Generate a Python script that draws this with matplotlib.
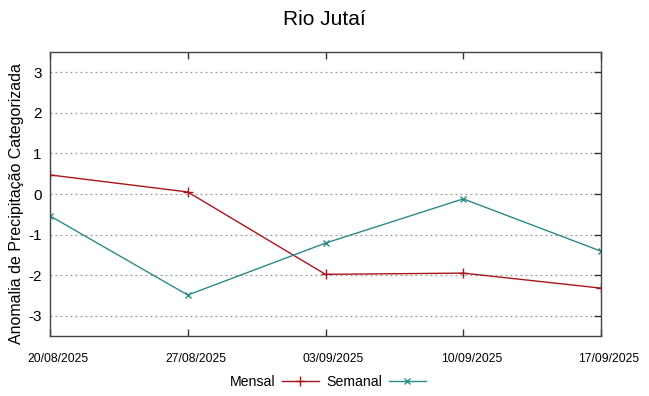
import datetime as dt
import matplotlib
matplotlib.use('Agg')
import matplotlib.pyplot as plt
import matplotlib.dates as mdates
from matplotlib.transforms import ScaledTranslation

plt.rcParams['font.family'] = ['Liberation Sans', 'DejaVu Sans']

# --Datos
datas = ['20/08/2025', '27/08/2025', '03/09/2025', '10/09/2025', '17/09/2025']
mensal = [0.47, 0.05, -1.98, -1.95, -2.32]
semanal = [-0.54, -2.49, -1.21, -0.12, -1.41]
yticks = [-3, -2, -1, 0, 1, 2, 3]

x = [dt.datetime.strptime(d, '%d/%m/%Y') for d in datas]

fig = plt.figure(figsize=(6.49, 3.96), dpi=100)
ax = fig.add_axes([50 / 649, 60 / 396, 551 / 649, 284 / 396])

ax.plot(x, mensal, color='#a8161d', lw=1, marker='+', ms=7, mew=1, label='Mensal')
ax.plot(x, semanal, color='#2b8a8a', lw=1, marker='x', ms=5, mew=1, label='Semanal')

ax.set_xlim(x[0], x[-1])
ax.set_ylim(-3.5, 3.5)
ax.set_yticks(yticks)
ax.set_yticklabels([str(v) for v in yticks], fontsize=11)
ax.set_xticks(x)
ax.xaxis.set_major_formatter(mdates.DateFormatter('%d/%m/%Y'))
ax.tick_params(axis='x', direction='in', top=True, length=5, width=1, color='#333333',
               pad=12, labelsize=8.7)
ax.tick_params(axis='y', direction='in', right=True, left=False, length=5, width=1, color='#333333', pad=6)
# --las etiquetas de fecha van un poco a la derecha
desvio = ScaledTranslation(8 / 100, 0, fig.dpi_scale_trans)
for lbl in ax.get_xticklabels():
    lbl.set_transform(lbl.get_transform() + desvio)
ax.yaxis.grid(True, linestyle=(0, (1.5, 2.5)), color='#999999', lw=0.9)
for s in ax.spines.values():
    s.set_color('#444444')
    s.set_linewidth(1)

ax.set_ylabel('Anomalia de Precipitação Categorizada', fontsize=11.5)
ax.yaxis.set_label_coords(-0.048, 0.465)
fig.suptitle('Rio Jutaí', fontsize=15, y=0.975)

fig.legend(loc='lower center', bbox_to_anchor=(0.505, -0.015), ncol=2, frameon=False,
           markerfirst=False, fontsize=10.2, handlelength=2.6, columnspacing=0.55, handletextpad=0.45)

fig.savefig('out.png', dpi=100)
